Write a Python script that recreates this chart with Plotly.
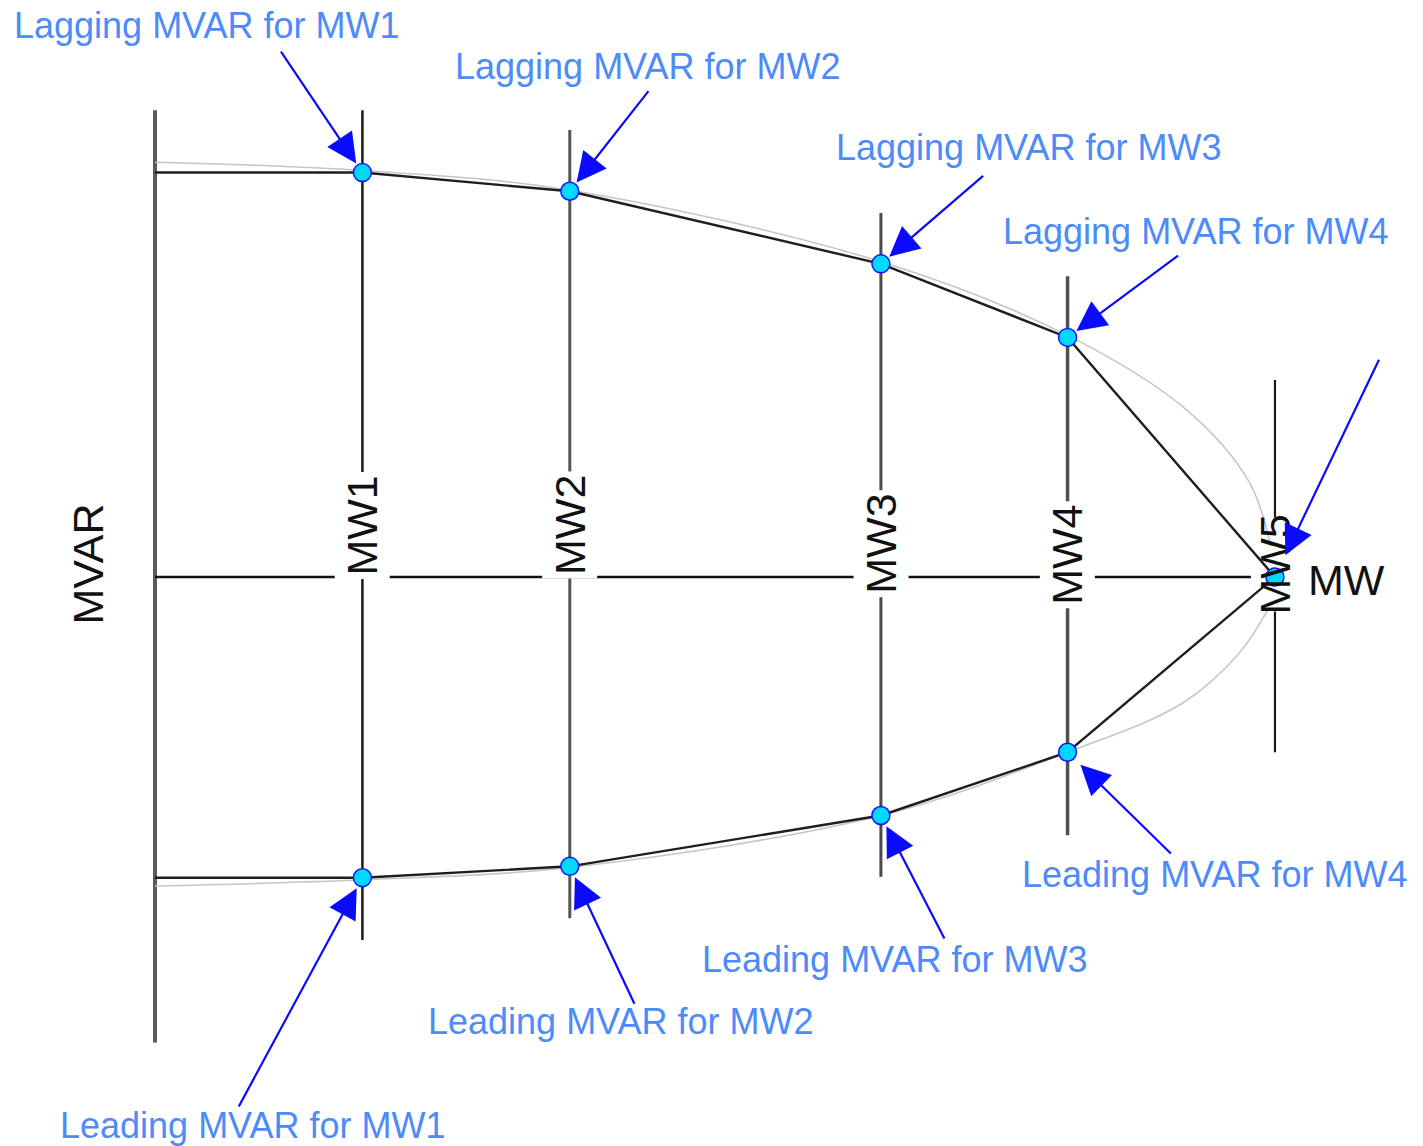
import plotly.graph_objects as go

# ---------------- data ----------------
mw_labels = ["MW1", "MW2", "MW3", "MW4", "MW5"]
mw_values = [2.0, 4.0, 7.0, 8.8, 10.8]
lagging_mvar = [3.9, 3.72, 3.02, 2.31, 0.0]
leading_mvar = [-2.9, -2.79, -2.3, -1.69, 0.0]
mvar_at_zero_mw_lag = 3.9
mvar_at_zero_mw_lead = -2.9

# smooth (ideal) capability curve
curve_lag_mw = [0.0, 2.0, 4.0, 7.0, 8.8, 9.95, 10.55, 10.76]
curve_lag = [4.0, 3.92, 3.73, 3.04, 2.33, 1.61, 0.92, 0.3]
curve_lead_mw = [0.0, 2.0, 4.0, 7.0, 8.8, 9.91, 10.45, 10.74]
curve_lead = [-2.98, -2.92, -2.8, -2.3, -1.69, -1.215, -0.74, -0.3]

# extents of the vertical MW lines (top, bottom) and the MVAR axis
mw_line_top = [4.5, 4.31, 3.51, 2.9, 1.9]
mw_line_bottom = [-3.5, -3.29, -2.89, -2.49, -1.69]
mvar_axis_top = 4.5
mvar_axis_bottom = -4.49

lag_texts = ["Lagging MVAR for MW1", "Lagging MVAR for MW2",
             "Lagging MVAR for MW3", "Lagging MVAR for MW4"]
lead_texts = ["Leading MVAR for MW1", "Leading MVAR for MW2",
              "Leading MVAR for MW3", "Leading MVAR for MW4"]

# ---------------- layout helpers (pixel-derived positions) ----------------
PX = 103.7  # pixels per data unit

lag_label_pos = [(-1.38, 5.32), (2.87, 4.92), (6.55, 4.14), (8.16, 3.33)]
lead_label_pos = [(-0.94, -5.29), (2.61, -4.29), (5.26, -3.69), (8.34, -2.87)]
lag_arrow_tail = [(1.205, 5.08), (4.77, 4.70), (8.00, 3.88), (9.88, 3.11)]
lead_arrow_tail = [(0.80, -5.12), (4.63, -4.13), (7.62, -3.50), (9.81, -2.68)]
mw5_arrow_tail = (11.81, 2.11)
mw_label_y = [0.50, 0.50, 0.32, 0.21, 0.12]
mw_line_color = ["#1a1a1a", "#555555", "#4a4a4a", "#505050", "#1a1a1a"]
mw_line_width = [2.5, 3, 3, 3.5, 2.2]

BLUE_TXT = "#4d8bf8"
ARROW = "#0a0aff"
FONT = "Liberation Sans, Arial, sans-serif"

fig = go.Figure()

# smooth grey curves
fig.add_trace(go.Scatter(x=curve_lag_mw, y=curve_lag, mode="lines", line_shape="spline",
                         line=dict(color="#c6c6c6", width=1.6), hoverinfo="skip"))
fig.add_trace(go.Scatter(x=curve_lead_mw, y=curve_lead, mode="lines", line_shape="spline",
                         line=dict(color="#c6c6c6", width=1.6), hoverinfo="skip"))

# black piecewise lines
fig.add_trace(go.Scatter(x=[0.0] + mw_values, y=[mvar_at_zero_mw_lag] + lagging_mvar,
                         mode="lines", line=dict(color="#1e1e1e", width=2.4), hoverinfo="skip"))
fig.add_trace(go.Scatter(x=[0.0] + mw_values, y=[mvar_at_zero_mw_lead] + leading_mvar,
                         mode="lines", line=dict(color="#1e1e1e", width=2.4), hoverinfo="skip"))

# points
marker = dict(size=18, color="#00d8ff", line=dict(color="#1515ff", width=1.5))
fig.add_trace(go.Scatter(x=mw_values[:4], y=lagging_mvar[:4], mode="markers", marker=marker,
                         hoverinfo="skip"))
fig.add_trace(go.Scatter(x=mw_values[:4], y=leading_mvar[:4], mode="markers", marker=marker,
                         hoverinfo="skip"))
fig.add_trace(go.Scatter(x=[mw_values[4]], y=[lagging_mvar[4]], mode="markers", marker=marker,
                         hoverinfo="skip"))

shapes = []
# MVAR axis
shapes.append(dict(type="line", xref="x", yref="y", x0=0, x1=0, y0=mvar_axis_bottom,
                   y1=mvar_axis_top, line=dict(color="#5a5a5a", width=4), layer="below"))
# MW axis
shapes.append(dict(type="line", xref="x", yref="y", x0=0, x1=mw_values[-1], y0=0, y1=0,
                   line=dict(color="#111111", width=2.5), layer="below"))
# vertical MW lines
for i, m in enumerate(mw_values):
    shapes.append(dict(type="line", xref="x", yref="y", x0=m, x1=m, y0=mw_line_bottom[i],
                       y1=mw_line_top[i], line=dict(color=mw_line_color[i], width=mw_line_width[i]),
                       layer="below"))
# white box behind the MW5 label (so the curves stay on top)
shapes.append(dict(type="rect", xref="x", yref="y", x0=mw_values[4] - 24 / PX,
                   x1=mw_values[4] + 24 / PX, y0=mw_label_y[4] - 47 / PX,
                   y1=mw_label_y[4] + 47 / PX, fillcolor="white", line=dict(width=0),
                   layer="below"))

annotations = []
# MW labels on the vertical lines
for i, lab in enumerate(mw_labels):
    annotations.append(dict(x=mw_values[i], y=mw_label_y[i], xref="x", yref="y", text=lab,
                            textangle=-90, showarrow=False, borderpad=3,
                            bgcolor="white" if i < 4 else "rgba(0,0,0,0)",
                            font=dict(family=FONT, size=43, color="#111111")))
# axis titles
annotations.append(dict(x=-67 / PX, y=0.12, xref="x", yref="y", text="MVAR", textangle=-90,
                        showarrow=False, font=dict(family=FONT, size=43, color="#111111")))
annotations.append(dict(x=mw_values[4] + 31 / PX, y=-0.03, xref="x", yref="y", text="MW",
                        xanchor="left", showarrow=False,
                        font=dict(family=FONT, size=43, color="#111111")))

# blue text labels
for (x, y), t in zip(lag_label_pos + lead_label_pos, lag_texts + lead_texts):
    annotations.append(dict(x=x, y=y, xref="x", yref="y", text=t, xanchor="left",
                            yanchor="middle", showarrow=False,
                            font=dict(family=FONT, size=36, color=BLUE_TXT)))

# arrows
def arrow(hx, hy, tail, standoff):
    return dict(x=hx, y=hy, xref="x", yref="y", ax=tail[0], ay=tail[1], axref="x", ayref="y",
                text="", showarrow=True, arrowhead=2, arrowsize=2.7, arrowwidth=2.2,
                arrowcolor=ARROW, standoff=standoff)

for i in range(4):
    annotations.append(arrow(mw_values[i], lagging_mvar[i], lag_arrow_tail[i], 11))
for i in range(4):
    annotations.append(arrow(mw_values[i], leading_mvar[i], lead_arrow_tail[i],
                             18 if i == 3 else 12))
annotations.append(arrow(mw_values[4], lagging_mvar[4], mw5_arrow_tail, 24))

W, H = 1423, 1146
fig.update_layout(
    width=W, height=H, margin=dict(l=0, r=0, t=0, b=0),
    paper_bgcolor="white", plot_bgcolor="white", showlegend=False,
    xaxis=dict(range=[-155 / PX, (W - 155) / PX], visible=False, fixedrange=True),
    yaxis=dict(range=[(577 - H) / PX, 577 / PX], visible=False, fixedrange=True),
    shapes=shapes, annotations=annotations,
)

fig.write_html("out.html", config={"displayModeBar": False},
               post_script="document.body.style.margin='0';")
